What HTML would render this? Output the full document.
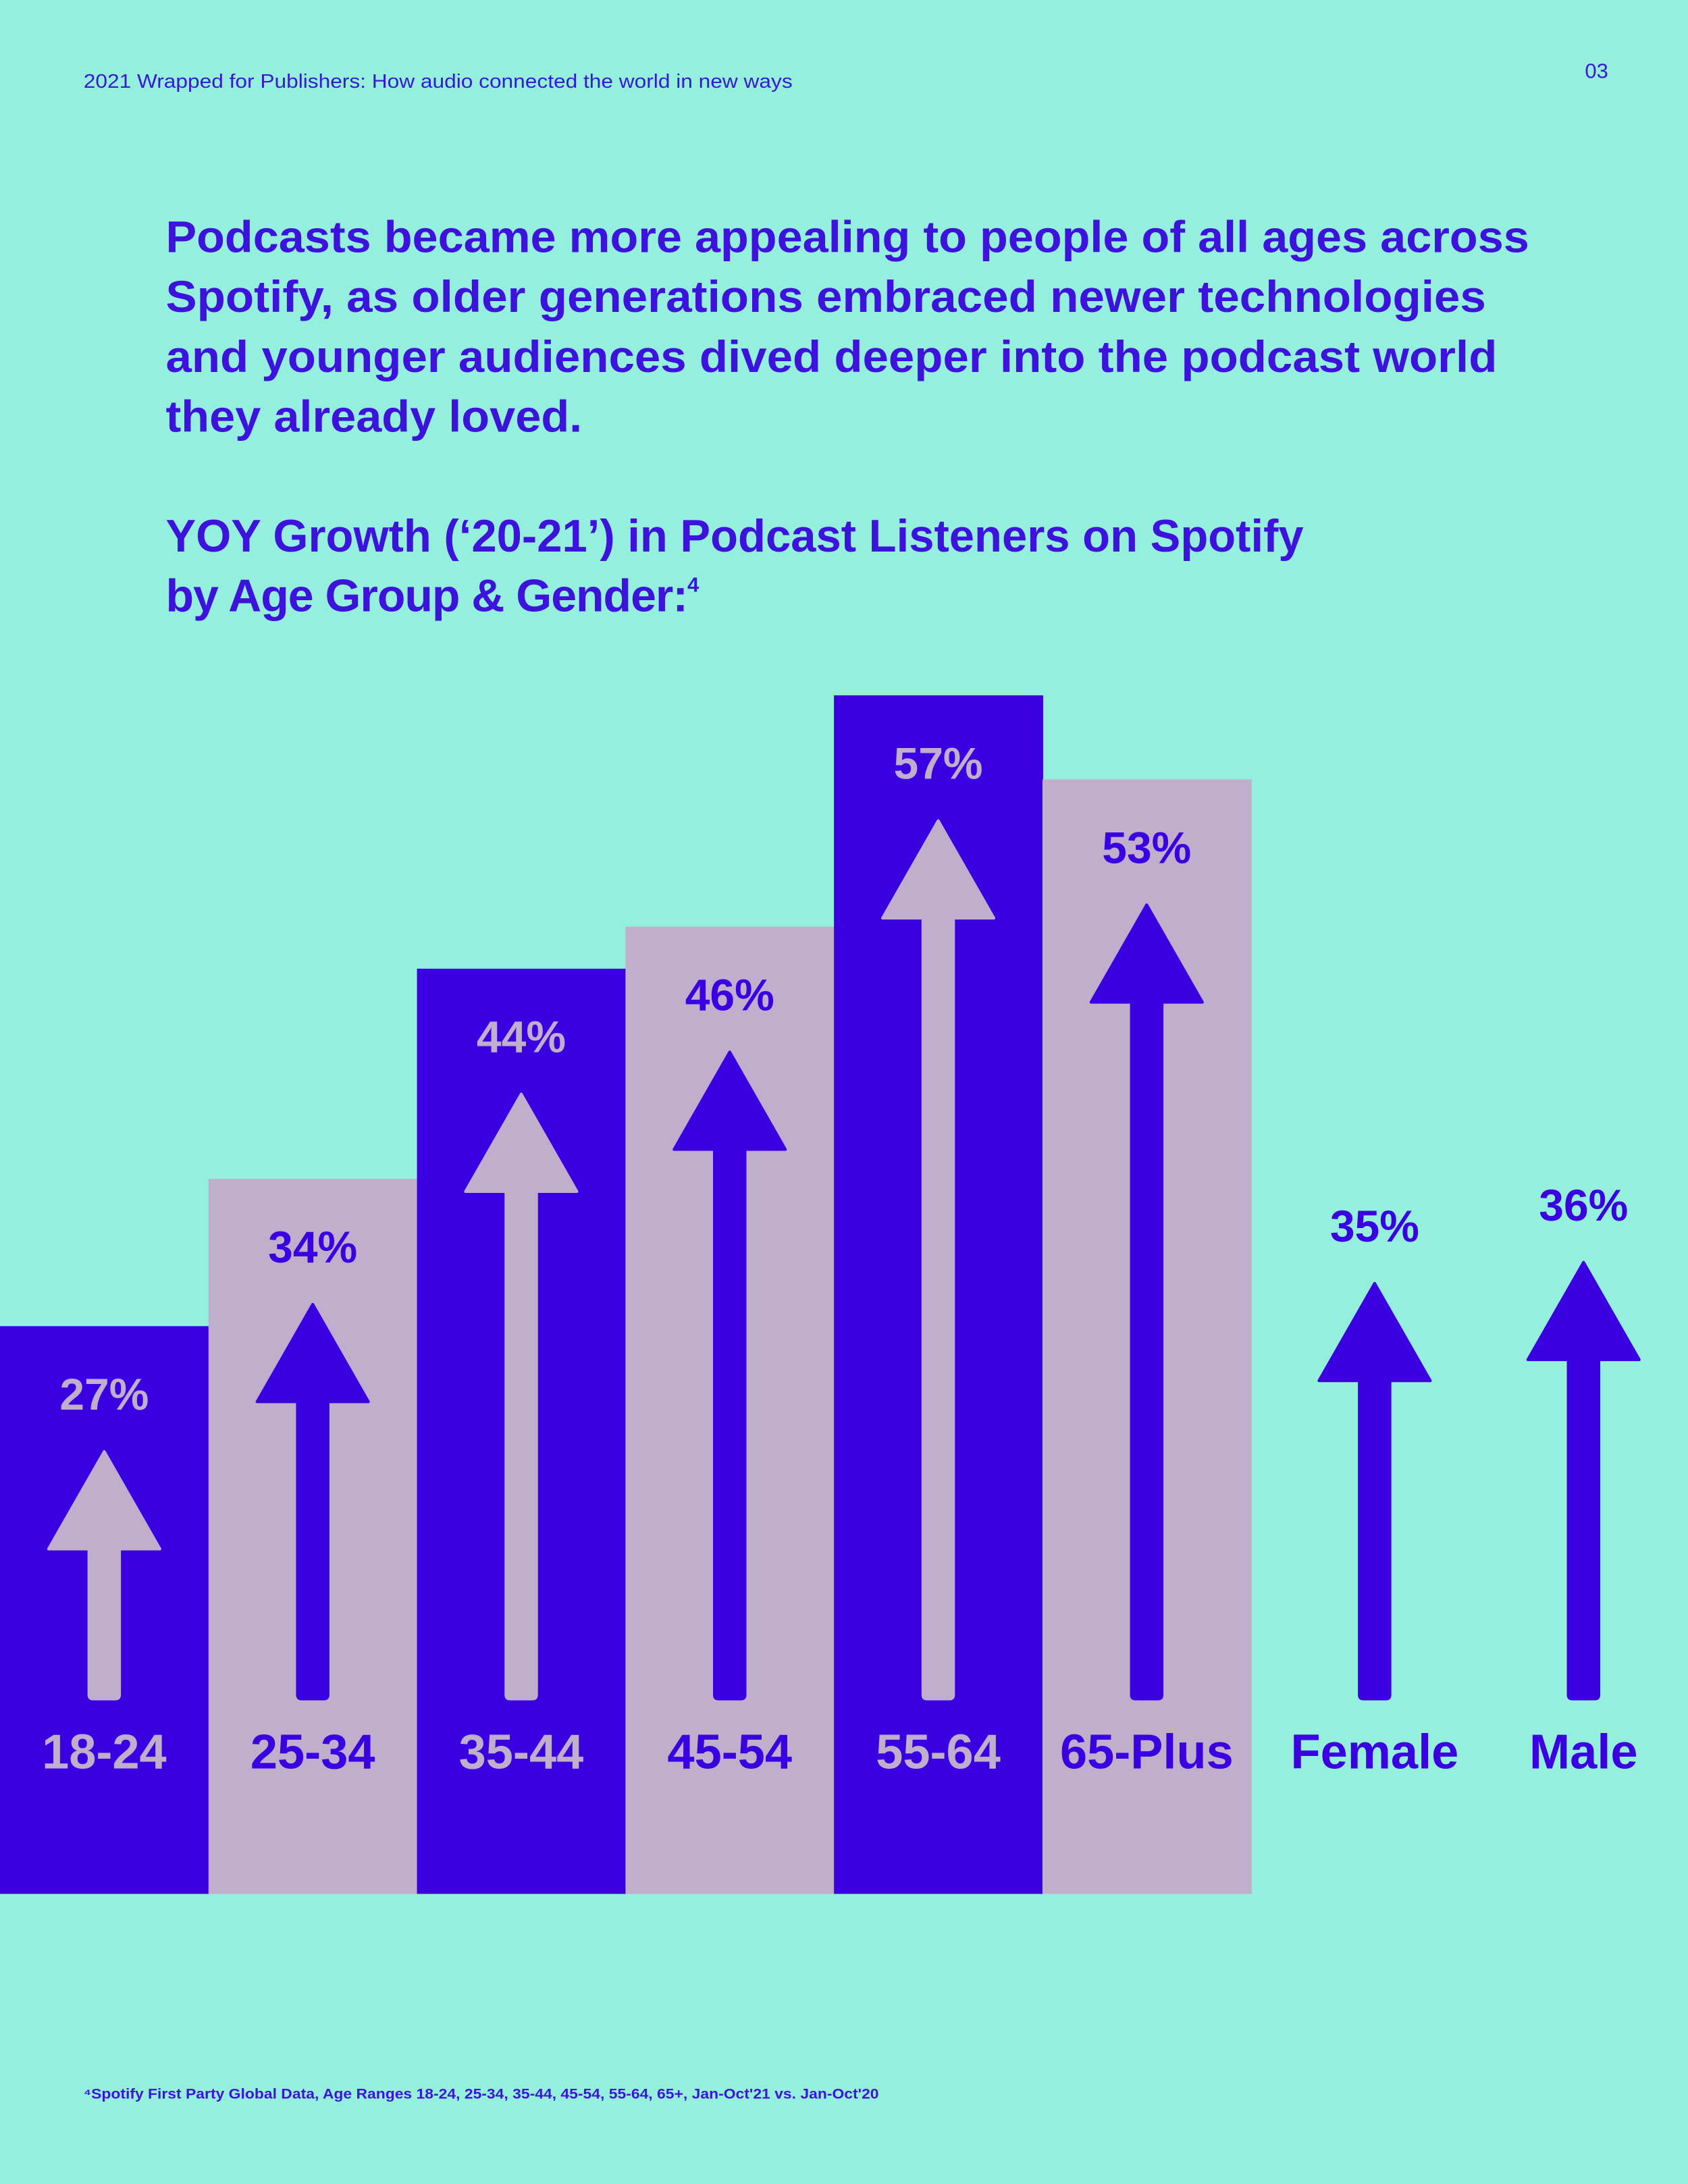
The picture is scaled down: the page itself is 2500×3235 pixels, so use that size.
<!DOCTYPE html>
<html><head><meta charset="utf-8"><style>
html,body{margin:0;padding:0;background:#94efdd;}
svg{display:block;}
text{font-family:"Liberation Sans",sans-serif;}
</style></head><body>
<svg id="chart" width="2500" height="3235" viewBox="0 0 1212 1568.3" xmlns="http://www.w3.org/2000/svg">
<rect x="0" y="0" width="1212" height="1568.3" fill="#94efdd"/>
<text x="60" y="63" font-size="14" fill="#3a16d6" textLength="509" lengthAdjust="spacingAndGlyphs">2021 Wrapped for Publishers: How audio connected the world in new ways</text>
<text x="1138" y="56" font-size="15" fill="#3a16d6">03</text>
<g fill="#3d12dc" font-size="32" font-weight="bold">
<text x="119" y="181" textLength="979" lengthAdjust="spacingAndGlyphs">Podcasts became more appealing to people of all ages across</text>
<text x="119" y="224" textLength="948" lengthAdjust="spacingAndGlyphs">Spotify, as older generations embraced newer technologies</text>
<text x="119" y="267" textLength="956" lengthAdjust="spacingAndGlyphs">and younger audiences dived deeper into the podcast world</text>
<text x="119" y="310" textLength="299" lengthAdjust="spacingAndGlyphs">they already loved.</text>
</g>
<g fill="#3d12dc" font-size="33" font-weight="bold">
<text x="119" y="396" textLength="817" lengthAdjust="spacingAndGlyphs">YOY Growth (‘20-21’) in Podcast Listeners on Spotify</text>
<text x="119" y="439" letter-spacing="-0.5">by Age Group &amp; Gender:<tspan font-size="15" dy="-14">4</tspan></text>
</g>
<g id="plot"></g>
<text x="60" y="1507" font-size="10.5" fill="#3a16d6" font-weight="bold" textLength="571" lengthAdjust="spacingAndGlyphs">⁴Spotify First Party Global Data, Age Ranges 18-24, 25-34, 35-44, 45-54, 55-64, 65+, Jan-Oct'21 vs. Jan-Oct'20</text>
</svg>
<script>
const categories = ["18-24","25-34","35-44","45-54","55-64","65-Plus","Female","Male"];
const values = [27,34,44,46,57,53,35,36];
const hasBar = [true,true,true,true,true,true,false,false];
const valueLabels = ["27%","34%","44%","46%","57%","53%","35%","36%"];

const PURPLE="#3b00e2", LILAC="#c0aecd";
const base=1360, unit=15.1, barW=149.7;
function xCenter(i){ return i<6 ? i*barW+barW/2 : (i===6?987:1137); }
function yTop(v){ return base - v*unit; }
const NS="http://www.w3.org/2000/svg";
const plot=document.getElementById('plot');
function mk(tag,attrs){const e=document.createElementNS(NS,tag);for(const k in attrs)e.setAttribute(k,attrs[k]);plot.appendChild(e);return e;}

categories.forEach((c,i)=>{
  const cx=xCenter(i), top=yTop(values[i]);
  const barColor = i%2===0 ? PURPLE : LILAC;
  const fg = hasBar[i] ? (i%2===0 ? LILAC : PURPLE) : PURPLE;
  if(hasBar[i]){
    const r=mk('rect',{x:i*barW,y:top,width:barW+0.5,height:base-top,fill:barColor});
    
    
  }
  const tip=top+90, headH=70, headW=40, bottom=1220, sw=11;
  const a=mk('path',{d:`M${cx} ${tip} L${cx+headW} ${tip+headH} L${cx+sw} ${tip+headH} L${cx+sw} ${bottom-3} Q${cx+sw} ${bottom} ${cx+sw-3} ${bottom} L${cx-sw+3} ${bottom} Q${cx-sw} ${bottom} ${cx-sw} ${bottom-3} L${cx-sw} ${tip+headH} L${cx-headW} ${tip+headH} Z`,fill:fg,'stroke':fg,'stroke-width':2,'stroke-linejoin':'round'});
  
  
  const vl=mk('text',{x:cx,y:top+60,'text-anchor':'middle','font-size':32,'font-weight':'bold',fill:fg});
  vl.textContent=valueLabels[i];
  
  
  const cl=mk('text',{x:cx,y:1270,'text-anchor':'middle','font-size':35,'font-weight':'bold',fill:fg});
  cl.textContent=c;
  
  
});
</script>
</body></html>
